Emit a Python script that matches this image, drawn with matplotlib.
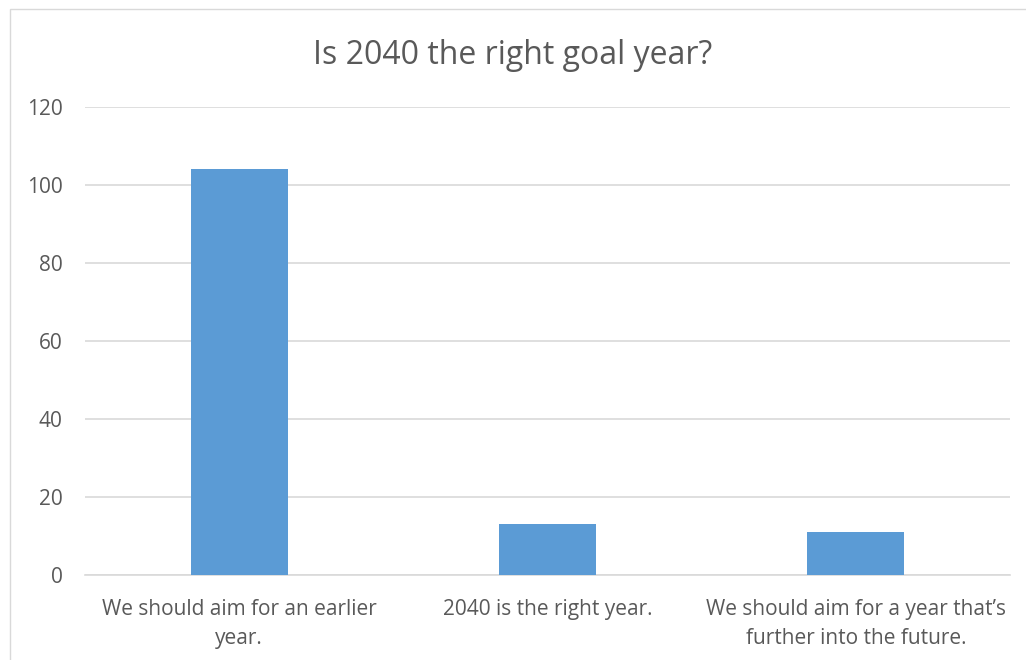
import matplotlib.pyplot as plt
from matplotlib.patches import Rectangle

# Survey answers
categories = ["We should aim for an earlier\nyear.",
              "2040 is the right year.",
              "We should aim for a year that\u2019s\nfurther into the future."]
counts = [104, 13, 11]
yticks = [0, 20, 40, 60, 80, 100, 120]

plt.rcParams['font.family'] = ['Open Sans', 'DejaVu Sans']
text_color = '#595959'

fig = plt.figure(figsize=(10.26, 6.6), dpi=100)
ax = fig.add_axes([85 / 1026, 85 / 660, 925 / 1026, 468 / 660])

x = range(len(categories))
ax.bar(x, counts, width=0.315, color='#5B9BD5', zorder=3)

ax.set_ylim(0, 120)
ax.set_xlim(-0.5, 2.5)
ax.set_yticks(yticks)
ax.set_xticks(list(x))
ax.set_xticklabels(categories, fontsize=15, color=text_color, linespacing=1.5)
ax.tick_params(axis='y', labelsize=15, colors=text_color, length=0, pad=16)
ax.tick_params(axis='x', length=0, pad=17)
ax.grid(True, axis='y', color='#D9D9D9', linewidth=1.2, zorder=0)
for side in ['top', 'right', 'left']:
    ax.spines[side].set_visible(False)
ax.spines['bottom'].set_color('#D9D9D9')
ax.spines['bottom'].set_linewidth(1.2)

fig.text(0.5, 1 - 56 / 660, "Is 2040 the right goal year?", ha='center', va='center',
         fontsize=23, color=text_color)

# light chart border
fig.patches.append(Rectangle((10 / 1026, -0.01), 1.0, 1 - 9 / 660 + 0.01,
                             transform=fig.transFigure, fill=False,
                             edgecolor='#D9D9D9', linewidth=1))

fig.savefig("out.png", dpi=100)
